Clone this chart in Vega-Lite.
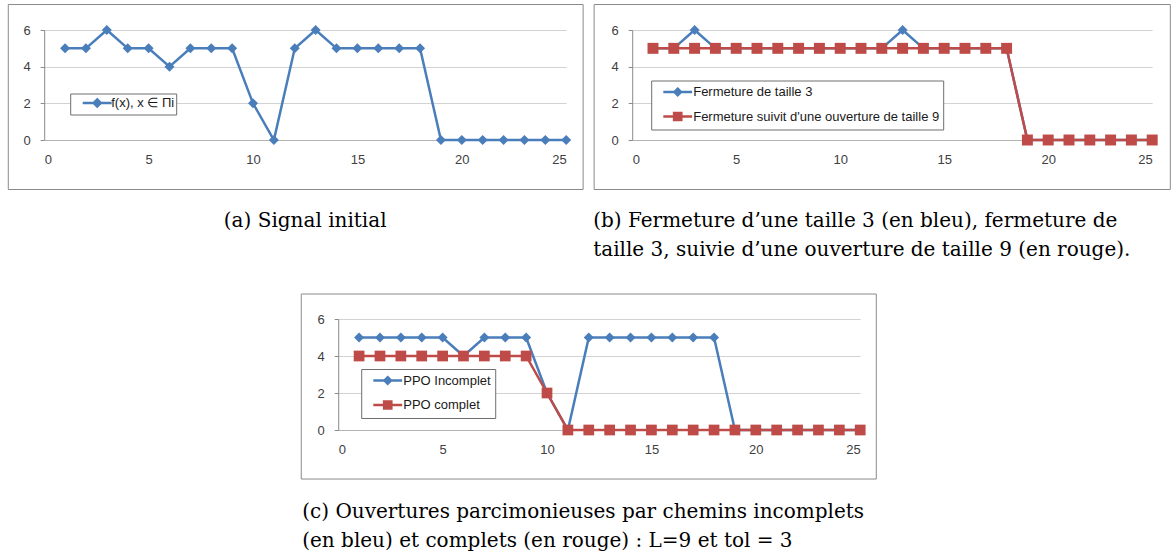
{
  "$schema": "https://vega.github.io/schema/vega-lite/v6.json",
  "background": "white",
  "padding": {"left": 7, "top": 4, "right": 0, "bottom": 0},
  "datasets": {
    "a": [
      {"x": 1, "y": 5, "series": "f(x), x ∈ Πi"}, {"x": 2, "y": 5, "series": "f(x), x ∈ Πi"}, {"x": 3, "y": 6, "series": "f(x), x ∈ Πi"}, {"x": 4, "y": 5, "series": "f(x), x ∈ Πi"}, {"x": 5, "y": 5, "series": "f(x), x ∈ Πi"},
      {"x": 6, "y": 4, "series": "f(x), x ∈ Πi"}, {"x": 7, "y": 5, "series": "f(x), x ∈ Πi"}, {"x": 8, "y": 5, "series": "f(x), x ∈ Πi"}, {"x": 9, "y": 5, "series": "f(x), x ∈ Πi"}, {"x": 10, "y": 2, "series": "f(x), x ∈ Πi"},
      {"x": 11, "y": 0, "series": "f(x), x ∈ Πi"}, {"x": 12, "y": 5, "series": "f(x), x ∈ Πi"}, {"x": 13, "y": 6, "series": "f(x), x ∈ Πi"}, {"x": 14, "y": 5, "series": "f(x), x ∈ Πi"}, {"x": 15, "y": 5, "series": "f(x), x ∈ Πi"},
      {"x": 16, "y": 5, "series": "f(x), x ∈ Πi"}, {"x": 17, "y": 5, "series": "f(x), x ∈ Πi"}, {"x": 18, "y": 5, "series": "f(x), x ∈ Πi"}, {"x": 19, "y": 0, "series": "f(x), x ∈ Πi"}, {"x": 20, "y": 0, "series": "f(x), x ∈ Πi"},
      {"x": 21, "y": 0, "series": "f(x), x ∈ Πi"}, {"x": 22, "y": 0, "series": "f(x), x ∈ Πi"}, {"x": 23, "y": 0, "series": "f(x), x ∈ Πi"}, {"x": 24, "y": 0, "series": "f(x), x ∈ Πi"}, {"x": 25, "y": 0, "series": "f(x), x ∈ Πi"}
    ],
    "b": [
      {"x": 1, "y": 5, "series": "Fermeture de taille 3"}, {"x": 2, "y": 5, "series": "Fermeture de taille 3"}, {"x": 3, "y": 6, "series": "Fermeture de taille 3"}, {"x": 4, "y": 5, "series": "Fermeture de taille 3"}, {"x": 5, "y": 5, "series": "Fermeture de taille 3"},
      {"x": 6, "y": 5, "series": "Fermeture de taille 3"}, {"x": 7, "y": 5, "series": "Fermeture de taille 3"}, {"x": 8, "y": 5, "series": "Fermeture de taille 3"}, {"x": 9, "y": 5, "series": "Fermeture de taille 3"}, {"x": 10, "y": 5, "series": "Fermeture de taille 3"},
      {"x": 11, "y": 5, "series": "Fermeture de taille 3"}, {"x": 12, "y": 5, "series": "Fermeture de taille 3"}, {"x": 13, "y": 6, "series": "Fermeture de taille 3"}, {"x": 14, "y": 5, "series": "Fermeture de taille 3"}, {"x": 15, "y": 5, "series": "Fermeture de taille 3"},
      {"x": 16, "y": 5, "series": "Fermeture de taille 3"}, {"x": 17, "y": 5, "series": "Fermeture de taille 3"}, {"x": 18, "y": 5, "series": "Fermeture de taille 3"}, {"x": 19, "y": 0, "series": "Fermeture de taille 3"}, {"x": 20, "y": 0, "series": "Fermeture de taille 3"},
      {"x": 21, "y": 0, "series": "Fermeture de taille 3"}, {"x": 22, "y": 0, "series": "Fermeture de taille 3"}, {"x": 23, "y": 0, "series": "Fermeture de taille 3"}, {"x": 24, "y": 0, "series": "Fermeture de taille 3"}, {"x": 25, "y": 0, "series": "Fermeture de taille 3"},
      {"x": 1, "y": 5, "series": "Fermeture suivit d'une ouverture de taille 9"}, {"x": 2, "y": 5, "series": "Fermeture suivit d'une ouverture de taille 9"}, {"x": 3, "y": 5, "series": "Fermeture suivit d'une ouverture de taille 9"}, {"x": 4, "y": 5, "series": "Fermeture suivit d'une ouverture de taille 9"}, {"x": 5, "y": 5, "series": "Fermeture suivit d'une ouverture de taille 9"},
      {"x": 6, "y": 5, "series": "Fermeture suivit d'une ouverture de taille 9"}, {"x": 7, "y": 5, "series": "Fermeture suivit d'une ouverture de taille 9"}, {"x": 8, "y": 5, "series": "Fermeture suivit d'une ouverture de taille 9"}, {"x": 9, "y": 5, "series": "Fermeture suivit d'une ouverture de taille 9"}, {"x": 10, "y": 5, "series": "Fermeture suivit d'une ouverture de taille 9"},
      {"x": 11, "y": 5, "series": "Fermeture suivit d'une ouverture de taille 9"}, {"x": 12, "y": 5, "series": "Fermeture suivit d'une ouverture de taille 9"}, {"x": 13, "y": 5, "series": "Fermeture suivit d'une ouverture de taille 9"}, {"x": 14, "y": 5, "series": "Fermeture suivit d'une ouverture de taille 9"}, {"x": 15, "y": 5, "series": "Fermeture suivit d'une ouverture de taille 9"},
      {"x": 16, "y": 5, "series": "Fermeture suivit d'une ouverture de taille 9"}, {"x": 17, "y": 5, "series": "Fermeture suivit d'une ouverture de taille 9"}, {"x": 18, "y": 5, "series": "Fermeture suivit d'une ouverture de taille 9"}, {"x": 19, "y": 0, "series": "Fermeture suivit d'une ouverture de taille 9"}, {"x": 20, "y": 0, "series": "Fermeture suivit d'une ouverture de taille 9"},
      {"x": 21, "y": 0, "series": "Fermeture suivit d'une ouverture de taille 9"}, {"x": 22, "y": 0, "series": "Fermeture suivit d'une ouverture de taille 9"}, {"x": 23, "y": 0, "series": "Fermeture suivit d'une ouverture de taille 9"}, {"x": 24, "y": 0, "series": "Fermeture suivit d'une ouverture de taille 9"}, {"x": 25, "y": 0, "series": "Fermeture suivit d'une ouverture de taille 9"}
    ],
    "c": [
      {"x": 1, "y": 5, "series": "PPO Incomplet"}, {"x": 2, "y": 5, "series": "PPO Incomplet"}, {"x": 3, "y": 5, "series": "PPO Incomplet"}, {"x": 4, "y": 5, "series": "PPO Incomplet"}, {"x": 5, "y": 5, "series": "PPO Incomplet"},
      {"x": 6, "y": 4, "series": "PPO Incomplet"}, {"x": 7, "y": 5, "series": "PPO Incomplet"}, {"x": 8, "y": 5, "series": "PPO Incomplet"}, {"x": 9, "y": 5, "series": "PPO Incomplet"}, {"x": 10, "y": 2, "series": "PPO Incomplet"},
      {"x": 11, "y": 0, "series": "PPO Incomplet"}, {"x": 12, "y": 5, "series": "PPO Incomplet"}, {"x": 13, "y": 5, "series": "PPO Incomplet"}, {"x": 14, "y": 5, "series": "PPO Incomplet"}, {"x": 15, "y": 5, "series": "PPO Incomplet"},
      {"x": 16, "y": 5, "series": "PPO Incomplet"}, {"x": 17, "y": 5, "series": "PPO Incomplet"}, {"x": 18, "y": 5, "series": "PPO Incomplet"}, {"x": 19, "y": 0, "series": "PPO Incomplet"}, {"x": 20, "y": 0, "series": "PPO Incomplet"},
      {"x": 21, "y": 0, "series": "PPO Incomplet"}, {"x": 22, "y": 0, "series": "PPO Incomplet"}, {"x": 23, "y": 0, "series": "PPO Incomplet"}, {"x": 24, "y": 0, "series": "PPO Incomplet"}, {"x": 25, "y": 0, "series": "PPO Incomplet"},
      {"x": 1, "y": 4, "series": "PPO complet"}, {"x": 2, "y": 4, "series": "PPO complet"}, {"x": 3, "y": 4, "series": "PPO complet"}, {"x": 4, "y": 4, "series": "PPO complet"}, {"x": 5, "y": 4, "series": "PPO complet"},
      {"x": 6, "y": 4, "series": "PPO complet"}, {"x": 7, "y": 4, "series": "PPO complet"}, {"x": 8, "y": 4, "series": "PPO complet"}, {"x": 9, "y": 4, "series": "PPO complet"}, {"x": 10, "y": 2, "series": "PPO complet"},
      {"x": 11, "y": 0, "series": "PPO complet"}, {"x": 12, "y": 0, "series": "PPO complet"}, {"x": 13, "y": 0, "series": "PPO complet"}, {"x": 14, "y": 0, "series": "PPO complet"}, {"x": 15, "y": 0, "series": "PPO complet"},
      {"x": 16, "y": 0, "series": "PPO complet"}, {"x": 17, "y": 0, "series": "PPO complet"}, {"x": 18, "y": 0, "series": "PPO complet"}, {"x": 19, "y": 0, "series": "PPO complet"}, {"x": 20, "y": 0, "series": "PPO complet"},
      {"x": 21, "y": 0, "series": "PPO complet"}, {"x": 22, "y": 0, "series": "PPO complet"}, {"x": 23, "y": 0, "series": "PPO complet"}, {"x": 24, "y": 0, "series": "PPO complet"}, {"x": 25, "y": 0, "series": "PPO complet"}
    ]
  },
  "vconcat": [
    {
      "hconcat": [
        {
          "width": 522,
          "height": 110,
          "title": {"text": "(a) Signal initial", "anchor": "middle", "offset": 21},
          "layer": [
            {
              "data": {"name": "a"},
              "mark": {"type": "line", "strokeWidth": 2.5, "point": {"shape": "diamond", "size": 100, "filled": true, "opacity": 1}},
              "encoding": {
                "x": {"field": "x", "type": "quantitative", "scale": {"domain": [0, 25], "nice": false}, "axis": {"values": [0, 5, 10, 15, 20, 25], "title": null}},
                "y": {"field": "y", "type": "quantitative", "scale": {"domain": [0, 6], "nice": false}, "axis": {"values": [0, 2, 4, 6], "title": null}},
                "color": {
                  "field": "series", "type": "nominal",
                  "scale": {"domain": ["f(x), x ∈ Πi"], "range": ["#4A7EBB"]},
                  "legend": {
                    "orient": "none", "legendX": 26, "legendY": 63.5, "title": null, "padding": 2,
                    "encode": {"symbols": {"update": {
                      "shape": {"value": "M0.5,0L5.33,0M2.92,-0.6L3.52,0L2.92,0.6L2.32,0Z"},
                      "fill": {"value": "#4A7EBB"}, "stroke": {"value": "#4A7EBB"},
                      "strokeWidth": {"value": 2.5}, "size": {"value": 144}, "opacity": {"value": 1}
                    }}}
                  }
                }
              }
            },
            {
              "data": {"values": [{}]},
              "mark": {"type": "rect", "fill": "white", "fillOpacity": 0, "stroke": "#8a8a8a", "strokeWidth": 1},
              "encoding": {
                "x": {"datum": -1.72, "type": "quantitative", "scale": {"domain": [0, 25], "nice": false}, "axis": {"values": [0, 5, 10, 15, 20, 25], "title": null}},
                "x2": {"datum": 25.81},
                "y": {"datum": 7.39, "type": "quantitative", "scale": {"domain": [0, 6], "nice": false}, "axis": {"values": [0, 2, 4, 6], "title": null}},
                "y2": {"datum": -2.7}
              }
            }
          ]
        },
        {
          "width": 520,
          "height": 110,
          "title": {"text": ["(b) Fermeture d’une taille 3 (en bleu), fermeture de", "taille 3, suivie d’une ouverture de taille 9 (en rouge)."], "anchor": "start", "frame": "group", "dx": -39, "offset": 21},
          "layer": [
            {
              "data": {"name": "b"},
              "transform": [{"filter": {"field": "series", "equal": "Fermeture de taille 3"}}],
              "mark": {"type": "line", "strokeWidth": 2.5, "point": {"shape": "diamond", "size": 100, "filled": true, "opacity": 1}},
              "encoding": {
                "x": {"field": "x", "type": "quantitative", "scale": {"domain": [0, 25], "nice": false}, "axis": {"values": [0, 5, 10, 15, 20, 25], "title": null}},
                "y": {"field": "y", "type": "quantitative", "scale": {"domain": [0, 6], "nice": false}, "axis": {"values": [0, 2, 4, 6], "title": null}},
                "color": {
                  "field": "series", "type": "nominal",
                  "scale": {"domain": ["Fermeture de taille 3", "Fermeture suivit d'une ouverture de taille 9"], "range": ["#4A7EBB", "#BE4B48"]},
                  "legend": {
                    "orient": "none", "legendX": 19, "legendY": 50.5, "title": null, "padding": 4, "rowPadding": 6.5, "labelOffset": 23,
                    "labelExpr": "datum.label + '  '",
                    "encode": {"symbols": {"update": {
                      "shape": {"signal": "datum.value === 'Fermeture de taille 3' ? 'M0.1,0L4.9,0M2.5,-0.55L3.05,0L2.5,0.55L1.95,0Z' : 'M0.1,0L4.9,0M1.9,-0.6L3.1,-0.6L3.1,0.6L1.9,0.6Z'"},
                      "fill": {"signal": "datum.value === 'Fermeture de taille 3' ? '#4A7EBB' : '#BE4B48'"},
                      "stroke": {"signal": "datum.value === 'Fermeture de taille 3' ? '#4A7EBB' : '#BE4B48'"},
                      "strokeWidth": {"value": 2.5}, "size": {"value": 144}, "opacity": {"value": 1}
                    }}}
                  }
                }
              }
            },
            {
              "data": {"name": "b"},
              "transform": [{"filter": {"field": "series", "equal": "Fermeture suivit d'une ouverture de taille 9"}}],
              "mark": {"type": "line", "strokeWidth": 2.5, "point": {"shape": "square", "size": 120, "filled": true, "opacity": 1}},
              "encoding": {
                "x": {"field": "x", "type": "quantitative", "scale": {"domain": [0, 25], "nice": false}, "axis": {"values": [0, 5, 10, 15, 20, 25], "title": null}},
                "y": {"field": "y", "type": "quantitative", "scale": {"domain": [0, 6], "nice": false}, "axis": {"values": [0, 2, 4, 6], "title": null}},
                "color": {"field": "series", "type": "nominal"}
              }
            },
            {
              "data": {"values": [{}]},
              "mark": {"type": "rect", "fill": "white", "fillOpacity": 0, "stroke": "#8a8a8a", "strokeWidth": 1},
              "encoding": {
                "x": {"datum": -1.83, "type": "quantitative", "scale": {"domain": [0, 25], "nice": false}, "axis": {"values": [0, 5, 10, 15, 20, 25], "title": null}},
                "x2": {"datum": 25.87},
                "y": {"datum": 7.39, "type": "quantitative", "scale": {"domain": [0, 6], "nice": false}, "axis": {"values": [0, 2, 4, 6], "title": null}},
                "y2": {"datum": -2.7}
              }
            }
          ]
        }
      ],
      "spacing": 9,
      "resolve": {"scale": {"color": "independent"}, "legend": {"color": "independent"}}
    },
    {
      "width": 522,
      "height": 111,
      "title": {"text": ["(c) Ouvertures parcimonieuses par chemins incomplets", "(en bleu) et complets (en rouge) : L=9 et tol = 3"], "anchor": "start", "frame": "group", "dx": -36, "offset": 22},
      "layer": [
        {
          "data": {"name": "c"},
          "transform": [{"filter": {"field": "series", "equal": "PPO Incomplet"}}],
          "mark": {"type": "line", "strokeWidth": 2.5, "point": {"shape": "diamond", "size": 100, "filled": true, "opacity": 1}},
          "encoding": {
            "x": {"field": "x", "type": "quantitative", "scale": {"domain": [0, 25], "nice": false}, "axis": {"values": [0, 5, 10, 15, 20, 25], "title": null}},
            "y": {"field": "y", "type": "quantitative", "scale": {"domain": [0, 6], "nice": false}, "axis": {"values": [0, 2, 4, 6], "title": null}},
            "color": {
              "field": "series", "type": "nominal",
              "scale": {"domain": ["PPO Incomplet", "PPO complet"], "range": ["#4A7EBB", "#BE4B48"]},
              "legend": {
                "orient": "none", "legendX": 23, "legendY": 50, "title": null, "padding": 4, "rowPadding": 6.5, "labelOffset": 23,
                "labelExpr": "datum.label + '  '",
                "encode": {"symbols": {"update": {
                  "shape": {"signal": "datum.value === 'PPO Incomplet' ? 'M0.1,0L4.9,0M2.5,-0.55L3.05,0L2.5,0.55L1.95,0Z' : 'M0.1,0L4.9,0M1.9,-0.6L3.1,-0.6L3.1,0.6L1.9,0.6Z'"},
                  "fill": {"signal": "datum.value === 'PPO Incomplet' ? '#4A7EBB' : '#BE4B48'"},
                  "stroke": {"signal": "datum.value === 'PPO Incomplet' ? '#4A7EBB' : '#BE4B48'"},
                  "strokeWidth": {"value": 2.5}, "size": {"value": 144}, "opacity": {"value": 1}
                }}}
              }
            }
          }
        },
        {
          "data": {"name": "c"},
          "transform": [{"filter": {"field": "series", "equal": "PPO complet"}}],
          "mark": {"type": "line", "strokeWidth": 2.5, "point": {"shape": "square", "size": 115, "filled": true, "opacity": 1}},
          "encoding": {
            "x": {"field": "x", "type": "quantitative", "scale": {"domain": [0, 25], "nice": false}, "axis": {"values": [0, 5, 10, 15, 20, 25], "title": null}},
            "y": {"field": "y", "type": "quantitative", "scale": {"domain": [0, 6], "nice": false}, "axis": {"values": [0, 2, 4, 6], "title": null}},
            "color": {"field": "series", "type": "nominal"}
          }
        },
        {
          "data": {"values": [{}]},
          "mark": {"type": "rect", "fill": "white", "fillOpacity": 0, "stroke": "#8a8a8a", "strokeWidth": 1},
          "encoding": {
            "x": {"datum": -1.77, "type": "quantitative", "scale": {"domain": [0, 25], "nice": false}, "axis": {"values": [0, 5, 10, 15, 20, 25], "title": null}},
            "x2": {"datum": 25.77},
            "y": {"datum": 7.35, "type": "quantitative", "scale": {"domain": [0, 6], "nice": false}, "axis": {"values": [0, 2, 4, 6], "title": null}},
            "y2": {"datum": -2.65}
          }
        }
      ]
    }
  ],
  "spacing": 33,
  "center": true,
  "resolve": {"scale": {"color": "independent"}, "legend": {"color": "independent"}},
  "config": {
    "view": {"stroke": null},
    "font": "Liberation Sans",
    "title": {"font": "DejaVu Serif", "fontSize": 20, "fontWeight": "normal", "color": "#000000", "orient": "bottom", "lineHeight": 29},
    "axis": {"labelFont": "Liberation Sans", "labelFontSize": 13, "labelColor": "#404040", "title": null},
    "axisX": {"grid": false, "ticks": false, "tickSize": 0, "labelPadding": 13, "domainColor": "#b4b4b4", "domainWidth": 1},
    "axisY": {"grid": true, "gridColor": "#d2d2d2", "gridWidth": 1, "ticks": true, "tickSize": 4, "tickColor": "#8a8a8a", "labelPadding": 10, "domainColor": "#8a8a8a", "domainWidth": 1},
    "legend": {"padding": 2, "rowPadding": 4.5, "labelOffset": 24, "labelFont": "Liberation Sans", "labelFontSize": 13, "labelColor": "#1a1a1a", "strokeColor": "#6e6e6e", "fillColor": "white", "symbolSize": 144, "symbolStrokeWidth": 2.5, "labelLimit": 400}
  }
}
